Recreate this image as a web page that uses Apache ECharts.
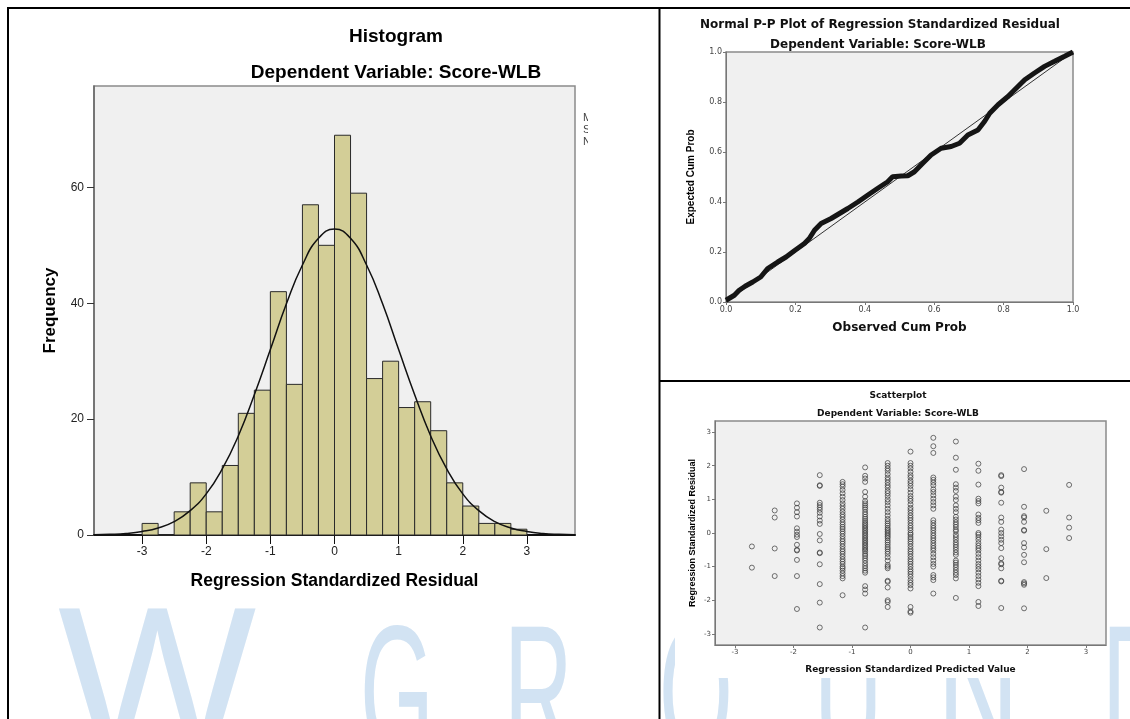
<!DOCTYPE html>
<html><head><meta charset="utf-8">
<script src="https://cdn.jsdelivr.net/npm/echarts@6/dist/echarts.min.js"></script>
<style>html,body{margin:0;padding:0;background:#fff}#c{width:1130px;height:719px}</style>
</head><body><div id="c"></div>
<script>
// ---------- Histogram ----------
const binLo = [-3,-2.75,-2.5,-2.25,-2,-1.75,-1.5,-1.25,-1,-0.75,-0.5,-0.25,0,0.25,0.5,0.75,1,1.25,1.5,1.75,2,2.25,2.5,2.75];
const binHi = [-2.75,-2.5,-2.25,-2,-1.75,-1.5,-1.25,-1,-0.75,-0.5,-0.25,0,0.25,0.5,0.75,1,1.25,1.5,1.75,2,2.25,2.5,2.75,3];
const freq  = [2,0,4,9,4,12,21,25,42,26,57,50,69,59,27,30,22,23,18,9,5,2,2,1];
const curveX = [-3.75,-3.5,-3.25,-3,-2.75,-2.5,-2.25,-2,-1.75,-1.5,-1.25,-1,-0.75,-0.5,-0.25,0,0.25,0.5,0.75,1,1.25,1.5,1.75,2,2.25,2.5,2.75,3,3.25,3.5,3.75];
const curveY = [0.05,0.12,0.27,0.6,1.2,2.3,4.2,7.1,11.4,17.1,24.2,32,39.9,46.6,51.2,52.8,51.2,46.6,39.9,32,24.2,17.1,11.4,7.1,4.2,2.3,1.2,0.6,0.27,0.12,0.05];
const histXTicks = [-3,-2,-1,0,1,2,3];
const histYTicks = [0,20,40,60];

// ---------- Normal P-P plot ----------
const obsCum = [0,0.024,0.038,0.055,0.077,0.10,0.12,0.149,0.173,0.197,0.226,0.24,0.255,0.274,0.303,0.327,0.351,0.38,0.409,0.4375,0.466,0.48,0.505,0.524,0.543,0.567,0.591,0.62,0.649,0.673,0.697,0.726,0.745,0.76,0.784,0.8125,0.837,0.861,0.889,0.918,0.947,0.976,1.0];
const expCum = [0.007,0.027,0.047,0.063,0.080,0.10,0.134,0.16,0.18,0.205,0.234,0.254,0.287,0.314,0.334,0.354,0.374,0.40,0.428,0.455,0.481,0.501,0.504,0.505,0.521,0.555,0.588,0.615,0.622,0.635,0.668,0.688,0.722,0.755,0.789,0.822,0.856,0.889,0.916,0.9425,0.9626,0.983,1.0];
const diagLine = [[0,0],[1,1]];

// ---------- Scatterplot ----------
const predCols = [-2.71,-2.32,-1.94,-1.55,-1.16,-0.775,-0.39,0,0.39,0.775,1.16,1.55,1.94,2.32,2.71];
const residCols = [
  [-0.40,-1.03],
  [0.67,0.46,-0.46,-1.28],
  [0.88,0.75,0.62,0.49,0.14,0.04,-0.05,-0.12,-0.35,-0.5,-0.52,-0.8,-1.28,-2.26],
  [1.72,1.42,1.40,0.90,0.83,0.76,0.69,0.60,0.49,0.37,0.27,-0.03,-0.22,-0.58,-0.60,-0.93,-1.52,-2.07,-2.81],
  [1.52,1.45,1.38,1.28,1.18,1.08,0.98,0.88,0.80,0.72,0.63,0.55,0.48,0.40,0.32,0.25,0.18,0.12,0.05,-0.02,-0.10,-0.18,-0.25,-0.32,-0.40,-0.48,-0.55,-0.62,-0.70,-0.78,-0.85,-0.92,-1.00,-1.05,-1.12,-1.20,-1.28,-1.35,-1.85],
  [1.95,1.70,1.62,1.52,1.22,1.08,0.95,0.88,0.82,0.76,0.70,0.62,0.55,0.48,0.42,0.36,0.30,0.25,0.20,0.15,0.10,0.05,0.0,-0.05,-0.10,-0.15,-0.20,-0.25,-0.30,-0.35,-0.40,-0.45,-0.50,-0.55,-0.62,-0.68,-0.75,-0.82,-0.90,-0.98,-1.05,-1.12,-1.18,-1.58,-1.68,-1.80,-2.81],
  [2.08,2.0,1.92,1.85,1.75,1.65,1.58,1.50,1.42,1.35,1.25,1.18,1.10,1.00,0.92,0.82,0.72,0.62,0.52,0.42,0.35,0.28,0.22,0.15,0.10,0.05,0.0,-0.05,-0.10,-0.15,-0.22,-0.28,-0.35,-0.42,-0.48,-0.55,-0.62,-0.72,-0.82,-0.95,-1.00,-1.05,-1.42,-1.45,-1.62,-2.0,-2.05,-2.2],
  [2.42,2.08,2.0,1.92,1.82,1.72,1.65,1.55,1.48,1.40,1.30,1.20,1.10,1.02,0.95,0.85,0.75,0.68,0.60,0.52,0.45,0.38,0.30,0.22,0.15,0.08,0.0,-0.05,-0.12,-0.18,-0.25,-0.32,-0.40,-0.48,-0.55,-0.62,-0.70,-0.78,-0.85,-0.92,-1.0,-1.08,-1.15,-1.22,-1.30,-1.40,-1.48,-1.55,-1.65,-2.2,-2.33,-2.37],
  [2.83,2.58,2.38,1.65,1.58,1.5,1.42,1.30,1.22,1.12,1.02,0.92,0.82,0.72,0.38,0.30,0.22,0.15,0.08,0.0,-0.08,-0.15,-0.22,-0.30,-0.38,-0.45,-0.52,-0.62,-0.72,-0.82,-0.92,-1.0,-1.25,-1.32,-1.40,-1.8],
  [2.72,2.24,1.88,1.45,1.35,1.25,1.08,0.98,0.82,0.72,0.62,0.48,0.40,0.32,0.25,0.18,0.10,0.05,-0.05,-0.12,-0.20,-0.28,-0.35,-0.42,-0.50,-0.58,-0.65,-0.82,-0.88,-0.95,-1.02,-1.10,-1.18,-1.25,-1.35,-1.93],
  [2.06,1.85,1.44,1.02,0.95,0.88,0.55,0.45,0.38,0.30,0.0,-0.05,-0.12,-0.20,-0.30,-0.38,-0.45,-0.52,-0.62,-0.72,-0.82,-0.92,-1.0,-1.08,-1.18,-1.28,-1.38,-1.48,-1.58,-2.05,-2.17],
  [1.72,1.69,1.35,1.22,1.20,0.90,0.46,0.33,0.10,0.0,-0.1,-0.2,-0.3,-0.45,-0.75,-0.90,-0.93,-1.05,-1.42,-1.44,-2.23],
  [1.9,0.78,0.5,0.46,0.33,0.09,0.07,-0.3,-0.43,-0.65,-0.87,-1.46,-1.50,-1.54,-2.24],
  [0.66,-0.48,-1.34],
  [1.43,0.46,0.16,-0.15]
];
const scatTicks = [-3,-2,-1,0,1,2,3];

// ---------- build ----------
const histData = binLo.map((lo,i)=>[lo, binHi[i], freq[i]]);
const curveData = curveX.map((x,i)=>[x, curveY[i]]);
const ppData = obsCum.map((x,i)=>[x, expCum[i]]);
const scatData = [];
predCols.forEach((p,i)=>residCols[i].forEach(r=>scatData.push([p,r])));

const WM = '#d2e3f3';
const boldArial = {fontFamily:'Liberation Sans', fontWeight:'bold', color:'#000'};
const boldWide = {fontFamily:'DejaVu Sans', fontWeight:'bold', color:'#111'};
function wmLetter(ch, x, y, size, sx){
  return {type:'text', z:-20, x:x, y:y, scaleX:sx, style:{text:ch, fontSize:size, fontFamily:'Liberation Sans', fill:WM, verticalAlign:'middle', align:'left'}};
}

const chart = echarts.init(document.getElementById('c'), null, {renderer:'canvas'});
const option = {
  backgroundColor:'#fff',
  animation:false,
  title:[
    {text:'Histogram', left:391, top:22, textAlign:'center', textStyle:Object.assign({fontSize:19}, boldArial)},
    {text:'Dependent Variable: Score-WLB', left:391, top:58, textAlign:'center', textStyle:Object.assign({fontSize:19}, boldArial)},
    {text:'Normal P-P Plot of Regression Standardized Residual', left:875, top:14, textAlign:'center', textStyle:Object.assign({fontSize:12}, boldWide)},
    {text:'Dependent Variable: Score-WLB', left:873, top:34, textAlign:'center', textStyle:Object.assign({fontSize:12}, boldWide)},
    {text:'Scatterplot', left:893, top:386, textAlign:'center', textStyle:Object.assign({fontSize:9}, boldWide)},
    {text:'Dependent Variable: Score-WLB', left:893, top:404, textAlign:'center', textStyle:Object.assign({fontSize:9}, boldWide)}
  ],
  grid:[
    {left:94, top:86, width:481, height:449, show:true, backgroundColor:'#f0f0f0', borderColor:'#8a8a8a', borderWidth:1.5},
    {left:726, top:52, width:347, height:250, show:true, backgroundColor:'#f0f0f0', borderColor:'#8a8a8a', borderWidth:1.5},
    {left:715, top:421, width:391, height:224, show:true, backgroundColor:'#f0f0f0', borderColor:'#8a8a8a', borderWidth:1.5}
  ],
  xAxis:[
    {gridIndex:0, type:'value', min:-3.75, max:3.75,
     axisLine:{show:true, onZero:false, lineStyle:{color:'#111', width:2}},
     axisTick:{show:true, length:9, customValues:histXTicks, lineStyle:{color:'#111', width:1}},
     axisLabel:{customValues:histXTicks, fontSize:12, color:'#222', margin:11, fontFamily:'Liberation Sans'},
     splitLine:{show:false},
     name:'Regression Standardized Residual', nameLocation:'middle', nameGap:37,
     nameTextStyle:Object.assign({fontSize:17.5}, boldArial)},
    {gridIndex:1, type:'value', min:0, max:1, interval:0.2,
     axisLine:{show:true, onZero:false, lineStyle:{color:'#777', width:1}},
     axisTick:{show:true, length:3, lineStyle:{color:'#777'}},
     axisLabel:{fontSize:8, color:'#444', margin:4, formatter:v=>v.toFixed(1), fontFamily:'DejaVu Sans'},
     splitLine:{show:false},
     name:'Observed Cum Prob', nameLocation:'middle', nameGap:20,
     nameTextStyle:Object.assign({fontSize:12}, boldWide)},
    {gridIndex:2, type:'value', min:-3.34, max:3.34,
     axisLine:{show:true, onZero:false, lineStyle:{color:'#777', width:1}},
     axisTick:{show:true, length:3, customValues:scatTicks, lineStyle:{color:'#777'}},
     axisLabel:{customValues:scatTicks, fontSize:7, color:'#444', margin:4, fontFamily:'DejaVu Sans'},
     splitLine:{show:false},
     name:'Regression Standardized Predicted Value', nameLocation:'middle', nameGap:20,
     nameTextStyle:Object.assign({fontSize:9}, boldWide)}
  ],
  yAxis:[
    {gridIndex:0, type:'value', min:0, max:77.5,
     axisLine:{show:true, onZero:false, lineStyle:{color:'#666', width:1.5}},
     axisTick:{show:true, length:7, customValues:histYTicks, lineStyle:{color:'#333'}},
     axisLabel:{customValues:histYTicks, fontSize:12, color:'#222', margin:10, fontFamily:'Liberation Sans'},
     splitLine:{show:false},
     name:'Frequency', nameLocation:'middle', nameGap:35,
     nameTextStyle:Object.assign({fontSize:17}, boldArial)},
    {gridIndex:1, type:'value', min:0, max:1, interval:0.2,
     axisLine:{show:true, onZero:false, lineStyle:{color:'#777', width:1}},
     axisTick:{show:true, length:3, lineStyle:{color:'#777'}},
     axisLabel:{fontSize:8, color:'#444', margin:4, formatter:v=>v.toFixed(1), fontFamily:'DejaVu Sans'},
     splitLine:{show:false},
     name:'Expected Cum Prob', nameLocation:'middle', nameGap:30,
     nameTextStyle:Object.assign({fontSize:10}, boldArial)},
    {gridIndex:2, type:'value', min:-3.33, max:3.33,
     axisLine:{show:true, onZero:false, lineStyle:{color:'#777', width:1}},
     axisTick:{show:true, length:3, customValues:scatTicks, lineStyle:{color:'#777'}},
     axisLabel:{customValues:scatTicks, fontSize:7, color:'#444', margin:4, fontFamily:'DejaVu Sans'},
     splitLine:{show:false},
     name:'Regression Standardized Residual', nameLocation:'middle', nameGap:18,
     nameTextStyle:Object.assign({fontSize:9}, boldArial)}
  ],
  series:[
    {type:'custom', xAxisIndex:0, yAxisIndex:0, data:histData, encode:{x:[0,1], y:2}, z:3,
     renderItem:function(params, api){
       const p0 = api.coord([api.value(0), api.value(2)]);
       const p1 = api.coord([api.value(1), 0]);
       return {type:'rect', shape:{x:p0[0], y:p0[1], width:p1[0]-p0[0], height:p1[1]-p0[1]},
               style:{fill:'#d3ce97', stroke:'#2a2a2a', lineWidth:1}};
     }},
    {type:'line', xAxisIndex:0, yAxisIndex:0, data:curveData, smooth:true, symbol:'none', z:4,
     lineStyle:{color:'#111', width:1.5}},
    {type:'line', xAxisIndex:1, yAxisIndex:1, data:diagLine, symbol:'none', z:3,
     lineStyle:{color:'#333', width:1}},
    {type:'line', xAxisIndex:1, yAxisIndex:1, data:ppData, symbol:'none', z:4,
     lineStyle:{color:'#151515', width:5}},
    {type:'scatter', xAxisIndex:2, yAxisIndex:2, data:scatData, symbol:'circle', symbolSize:5, z:4,
     itemStyle:{color:'rgba(0,0,0,0)', borderColor:'#3a3a3a', borderWidth:0.9}}
  ],
  graphic:[
    wmLetter('W', 58, 695, 210, 1.0),
    wmLetter('G', 360, 705, 190, 0.5),
    wmLetter('R', 504, 705, 190, 0.5),
    wmLetter('O', 659, 705, 190, 0.5),
    wmLetter('U', 814, 705, 190, 0.5),
    wmLetter('N', 937, 705, 190, 0.6),
    wmLetter('D', 1102, 705, 190, 0.5),
    // white panel behind scatter image
    {type:'rect', z:-10, shape:{x:675, y:383, width:427, height:295}, style:{fill:'#fff'}},
    // truncated legend text
    {type:'text', z:-5, x:583, y:112, style:{text:'M\nS\nN', fontSize:11, lineHeight:12, fontFamily:'Liberation Sans', fill:'#444'}},
    {type:'rect', z:-4, shape:{x:588, y:105, width:60, height:50}, style:{fill:'#fff'}},
    // table borders
    {type:'line', z:50, shape:{x1:7, y1:8, x2:1130, y2:8}, style:{stroke:'#000', lineWidth:2}},
    {type:'line', z:50, shape:{x1:8, y1:8, x2:8, y2:719}, style:{stroke:'#000', lineWidth:2}},
    {type:'line', z:50, shape:{x1:659.5, y1:8, x2:659.5, y2:719}, style:{stroke:'#000', lineWidth:2}},
    {type:'line', z:50, shape:{x1:659, y1:381, x2:1130, y2:381}, style:{stroke:'#000', lineWidth:2}}
  ]
};
chart.setOption(option);
</script></body></html>
